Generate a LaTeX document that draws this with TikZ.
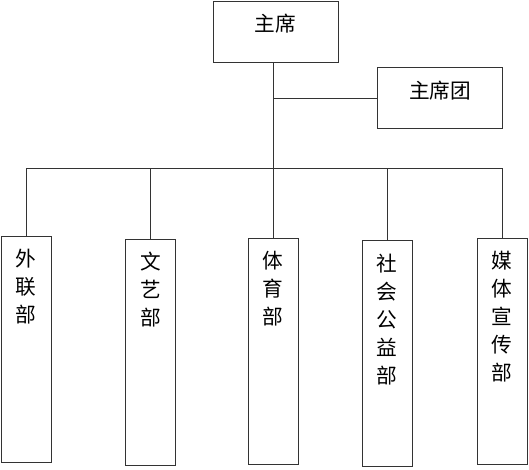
\documentclass[tikz,border=0pt]{standalone}
\usepackage{fontspec}
\newfontfamily\cjk{Noto Sans CJK SC}
\usetikzlibrary{positioning, calc}

\tikzset{
  box/.style={rectangle, draw=black!80, line width=0.75pt, inner sep=0pt,
              label={[font=\cjk\fontsize{15.5}{21}\selectfont, align=center,
                      anchor=north, inner sep=0pt, yshift=-10pt]north:#1}},
  head/.style={box=#1, minimum width=93.75pt, minimum height=45.75pt},
  dept/.style={box=#1, minimum width=37.5pt, minimum height=169.5pt},
  link/.style={draw=black!80, line width=0.75pt}
}

\begin{document}
\begin{tikzpicture}[x=0.75pt, y=-0.75pt]
    \useasboundingbox (0,0) rectangle (529,469);
    % top
    \node[head={主席}] (chair) at (275.5,31.5) {};
    \node[head={主席团}] (presidium) at (440,98) {};
    % departments
    \node[dept={外\\联\\部}] (wailian) at (26,349) {};
    \node[dept={文\\艺\\部}] (wenyi) at (150.5,352) {};
    \node[dept={体\\育\\部}] (tiyu) at (273,351) {};
    \node[dept={社\\会\\公\\益\\部}] (shehui) at (387,353.5) {};
    \node[dept={媒\\体\\宣\\传\\部}] (meiti) at (502,351) {};
    \coordinate (bus) at (0,168);

    \draw[link] (chair.south -| tiyu.north) -- (tiyu.north);
    \draw[link] (presidium.west) -- (presidium.west -| tiyu.north);
    \draw[link] (bus -| wailian.north) -- (bus -| meiti.north);
    \foreach \d in {wailian, wenyi, shehui, meiti}
        \draw[link] (bus -| \d.north) -- (\d.north);
\end{tikzpicture}
\end{document}
